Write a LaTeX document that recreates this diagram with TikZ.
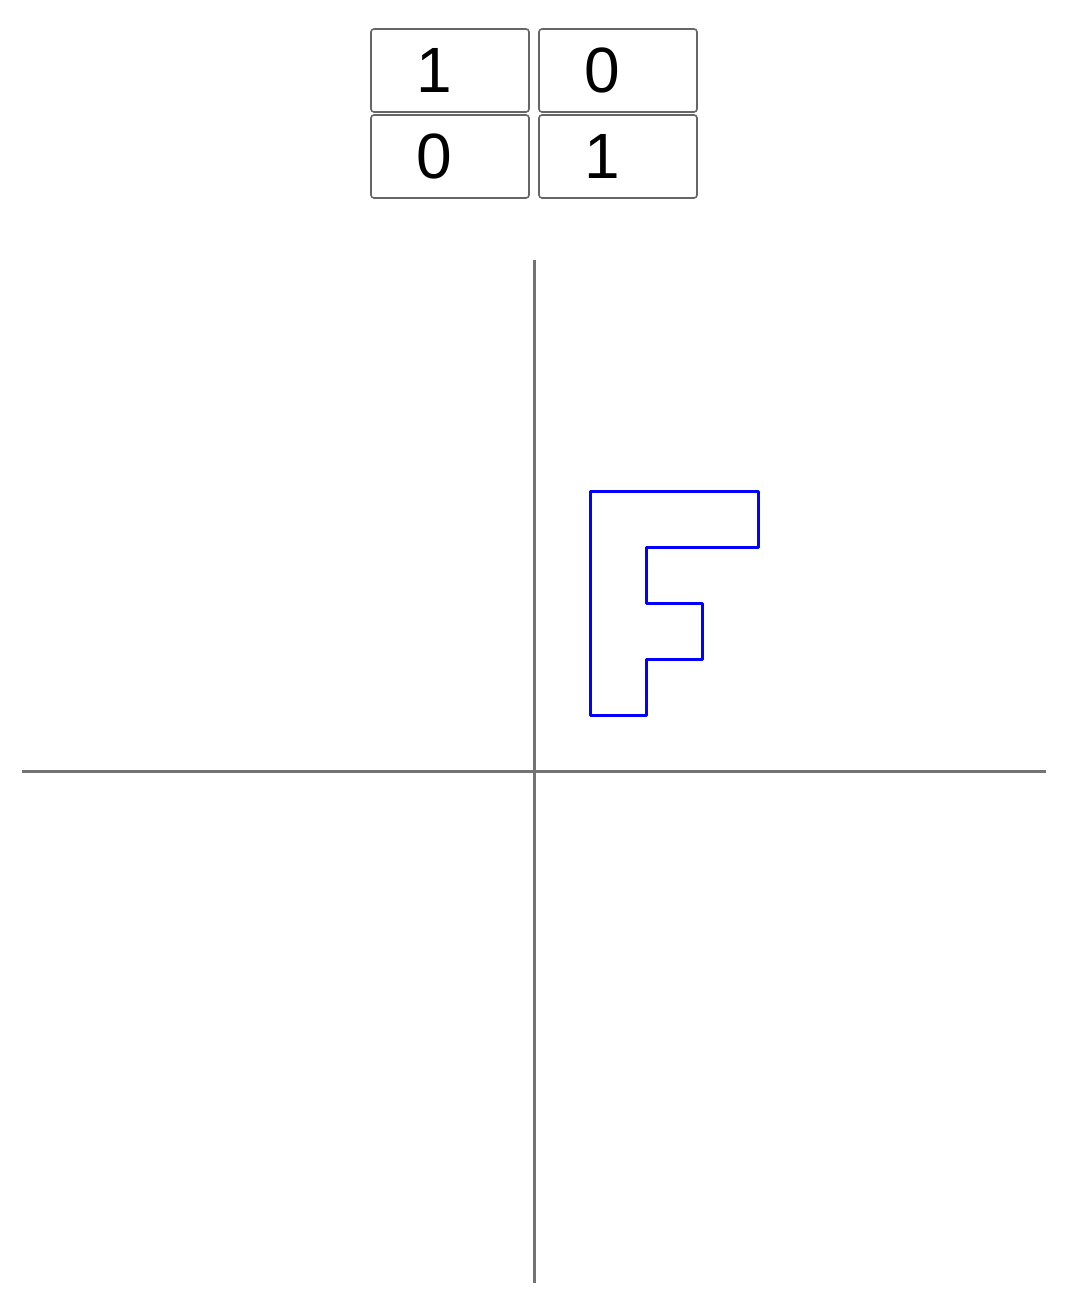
\documentclass[tikz,border=0pt]{standalone}
\usepackage{fontspec}
\setmainfont{Liberation Sans}
\begin{document}
\begin{tikzpicture}[x=1pt,y=-1pt,
  cell/.style={draw=black!60, line width=1.6pt, rounded corners=3pt},
  digit/.style={font=\fontsize{64}{64}\selectfont, inner sep=0pt, anchor=center},
  axisline/.style={draw=black!55, line width=3pt},
  fshape/.style={draw=blue, line width=3pt, line join=round}]
\useasboundingbox (0,0) rectangle (1076,1308);
% matrix cells
\draw[cell] (371,29) rectangle (529,112);
\draw[cell] (539,29) rectangle (697,112);
\draw[cell] (371,115) rectangle (529,198);
\draw[cell] (539,115) rectangle (697,198);
\node[digit] (a11) at (434,70) {1};
\node[digit] (a12) at (602,70) {0};
\node[digit] (a21) at (434,156) {0};
\node[digit] (a22) at (602,156) {1};
% axes
\coordinate (xl) at (22,771);
\coordinate (xr) at (1046,771);
\coordinate (yt) at (534,260);
\coordinate (yb) at (534,1283);
\draw[axisline] (xl) -- (xr);
\draw[axisline] (yt) -- (yb);
% F shape
\draw[fshape] (590,491) -- (758,491) -- (758,547) -- (646,547) -- (646,603)
  -- (702,603) -- (702,659) -- (646,659) -- (646,715) -- (590,715) -- cycle;
\end{tikzpicture}
\end{document}
